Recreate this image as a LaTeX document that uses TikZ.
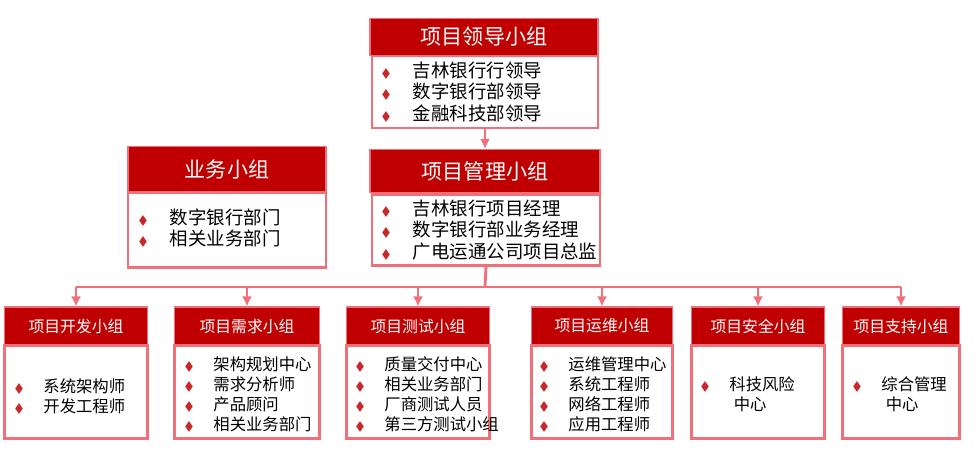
\documentclass[tikz,border=0pt]{standalone}
\usepackage{amssymb}
\usepackage{fontspec}
\setmainfont{Noto Sans CJK SC}
\usetikzlibrary{arrows.meta, positioning}
\definecolor{hdred}{HTML}{C00000}
\definecolor{edge}{HTML}{F0707A}
\definecolor{bul}{HTML}{C8282C}
\newcommand{\bl}{\textcolor{bul}{\scriptsize$\blacklozenge$}\hspace{1.2em}}
\begin{document}
\begin{tikzpicture}[x=0.02cm, y=-0.02cm, >={Latex[length=2mm,width=2mm]}]
	\tikzstyle{hd} = [fill=hdred, draw=edge, line width=0.6pt, text=white, inner sep=0pt]
	\tikzstyle{bd} = [draw=edge, line width=1.6pt, fill=white, inner sep=0pt]
	\tikzstyle{txt} = [anchor=west, align=left, inner sep=0pt]
	\tikzstyle{link} = [draw=edge, line width=1.6pt]
	\useasboundingbox (0,0) rectangle (978,454);

	% top groups
	\node[hd, minimum width=4.56cm, minimum height=0.74cm, font=\fontsize{12}{14}\selectfont] at (484,37) (lead) {项目领导小组};
	\node[bd, minimum width=4.52cm, minimum height=1.44cm] at (485,92) (leadb) {};
	\node[txt, font=\fontsize{10.5}{12.2}\selectfont] at (381,92) (leadt) {\bl 吉林银行行领导\\ \bl 数字银行部领导\\ \bl 金融科技部领导};

	\node[hd, minimum width=4.6cm, minimum height=0.86cm, font=\fontsize{12}{14}\selectfont] at (485,171) (mgmt) {项目管理小组};
	\node[bd, minimum width=4.56cm, minimum height=1.42cm] at (486,230) (mgmtb) {};
	\node[txt, font=\fontsize{10.5}{12.2}\selectfont] at (381,230) (mgmtt) {\bl 吉林银行项目经理\\ \bl 数字银行部业务经理\\ \bl 广电运通公司项目总监};

	\node[hd, minimum width=3.96cm, minimum height=0.9cm, font=\fontsize{12}{14}\selectfont] at (227,169) (biz) {业务小组};
	\node[bd, minimum width=3.96cm, minimum height=1.5cm] at (227,230) (bizb) {};
	\node[txt, font=\fontsize{10.5}{12.2}\selectfont] at (138,228) (bizt) {\bl 数字银行部门\\ \bl 相关业务部门};

	% bottom groups
	\foreach \n/\cx/\w/\t in {g1/76/2.86/项目开发小组, g2/247/2.9/项目需求小组, g3/418/2.86/项目测试小组, g4/602/2.82/项目运维小组, g5/758/2.66/项目安全小组, g6/901/2.34/项目支持小组}{
		\node[hd, minimum width=\w cm, minimum height=0.76cm, font=\fontsize{9}{11}\selectfont] at (\cx,326) (\n) {\t};
		\node[bd, minimum width=\w cm, minimum height=1.86cm] at (\cx,392) (\n b) {};
	}
	\node[txt, font=\fontsize{9.3}{11.4}\selectfont] at (14,396) (g1t) {\bl 系统架构师\\ \bl 开发工程师};
	\node[txt, font=\fontsize{9.3}{11.4}\selectfont] at (184,394) (g2t) {\bl 架构规划中心\\ \bl 需求分析师\\ \bl 产品顾问\\ \bl 相关业务部门};
	\node[txt, font=\fontsize{9.3}{11.4}\selectfont] at (355,394) (g3t) {\bl 质量交付中心\\ \bl 相关业务部门\\ \bl 厂商测试人员\\ \bl 第三方测试小组};
	\node[txt, font=\fontsize{9.3}{11.4}\selectfont] at (539,394) (g4t) {\bl 运维管理中心\\ \bl 系统工程师\\ \bl 网络工程师\\ \bl 应用工程师};
	\node[txt, font=\fontsize{9.3}{11.4}\selectfont] at (700,394) (g5t) {\bl 科技风险\\ \hspace{2.05em}中心};
	\node[txt, font=\fontsize{9.3}{11.4}\selectfont] at (852,394) (g6t) {\bl 综合管理\\ \hspace{2.05em}中心};

	% connectors
	\coordinate (bus) at (485,287);
	\draw[link, ->] (leadb.south) -- (mgmt.north);
	\draw[link] (mgmtb.south) -- (bus);
	\draw[link] (g1.north |- bus) -- (g6.north |- bus);
	\foreach \n in {g1,g2,g3,g4,g5,g6}
		\draw[link, ->] (\n.north |- bus) -- (\n.north);
\end{tikzpicture}
\end{document}
